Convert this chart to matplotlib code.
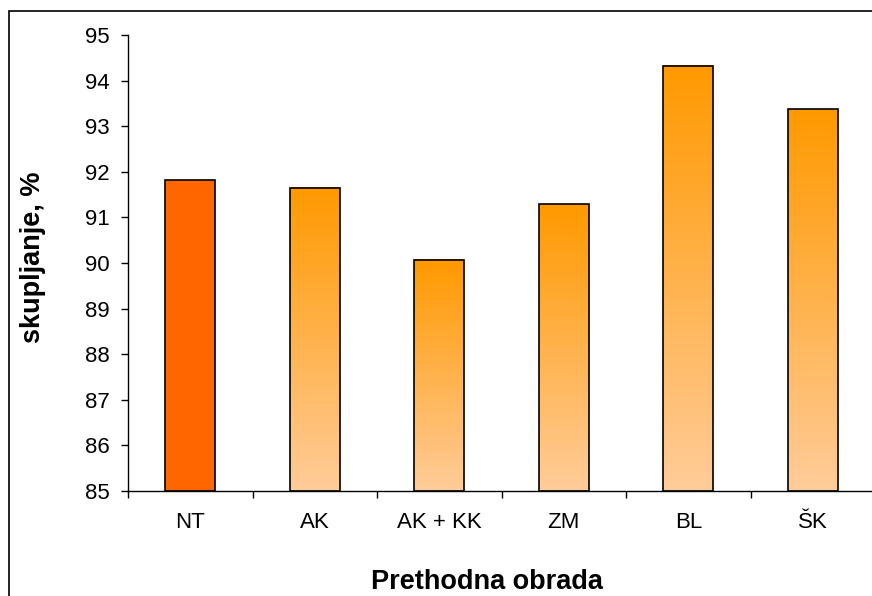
import numpy as np
import matplotlib.pyplot as plt
from matplotlib.patches import Rectangle
from matplotlib.colors import LinearSegmentedColormap

plt.rcParams['font.family'] = ['Liberation Sans', 'DejaVu Sans']

categories = ['NT', 'AK', 'AK + KK', 'ZM', 'BL', 'ŠK']
values = [91.82, 91.65, 90.07, 91.29, 94.33, 93.37]
ymin, ymax = 85, 95

fig = plt.figure(figsize=(8.72, 5.96), dpi=100)
ax = fig.add_axes([128 / 872, 1 - 491 / 596, 747 / 872, 456 / 596])

# outer frame (only top and left visible in the original crop)
fig.patches.append(Rectangle((9 / 872, -0.1), 1.2, 1.1 - 11 / 596, transform=fig.transFigure,
                             fill=False, edgecolor='black', linewidth=1.2))

grad = LinearSegmentedColormap.from_list('g', ['#FFCC99', '#FF9900'])
width = 0.4
x = np.arange(len(categories))
for i, v in enumerate(values):
    left = x[i] - width / 2
    if i == 0:
        ax.bar(x[i], v - ymin, width, bottom=ymin, color='#FF6600',
               edgecolor='black', linewidth=1.2, zorder=2)
    else:
        img = np.linspace(0, 1, 256).reshape(-1, 1)
        ax.imshow(img, cmap=grad, origin='lower', aspect='auto',
                  extent=[left, left + width, ymin, v], zorder=1)
        ax.bar(x[i], v - ymin, width, bottom=ymin, fill=False,
               edgecolor='black', linewidth=1.2, zorder=2)

ax.set_xlim(-0.5, len(categories) - 0.5)
ax.set_ylim(ymin, ymax)
ax.set_yticks(range(85, 96))
ax.set_xticks(x)
ax.set_xticklabels(categories, fontsize=16)
ax.set_xticks(np.arange(-0.5, len(categories)), minor=True)
ax.tick_params(axis='x', which='major', length=0, pad=15)
ax.tick_params(axis='x', which='minor', length=5, width=1, direction='out')
ax.tick_params(axis='y', labelsize=16, length=5, width=1, direction='out', pad=8)

for s in ['top', 'right']:
    ax.spines[s].set_visible(False)
ax.spines['left'].set_linewidth(1)
ax.spines['bottom'].set_linewidth(1)

ax.set_ylabel('skupljanje, %', fontsize=19.5, fontweight='bold', labelpad=28)
ax.set_xlabel('Prethodna obrada', fontsize=19.5, fontweight='bold', labelpad=26)
ax.xaxis.label.set_x(0.48)
ax.yaxis.label.set_y(0.513)

fig.savefig('out.png', dpi=100)
